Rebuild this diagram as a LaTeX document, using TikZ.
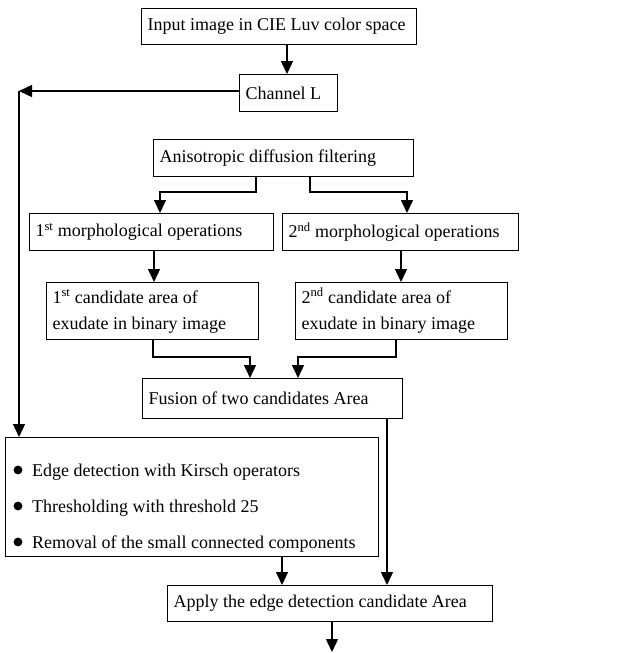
\documentclass[tikz,border=0pt]{standalone}
\usepackage{fontspec}
\setmainfont{Liberation Serif}
\usetikzlibrary{arrows.meta}
\newcommand{\lbx}[2]{\makebox[#1][l]{#2}}
\newcommand{\twoln}[3]{\makebox[#1][l]{\begin{tabular}{@{}l@{}}#2\\#3\end{tabular}}}
\begin{document}
\begin{tikzpicture}[x=1pt,y=-1pt,
  box/.style={draw, line width=1.1pt, inner xsep=6pt, inner ysep=0pt, anchor=north west, align=left, font=\fontsize{18}{26}\selectfont},
  txt/.style={anchor=base west, inner sep=0pt, font=\fontsize{18}{22}\selectfont},
  arr/.style={line width=1.4pt, -{Triangle[length=13pt,width=12pt]}}]
\useasboundingbox (0,0) rectangle (618,653);
% boxes
\node[box, minimum height=36pt] (in) at (141,8) {\lbx{263pt}{Input image in CIE Luv color space}};
\node[box, minimum height=37pt] (ch) at (239,74) {\lbx{86pt}{Channel L}};
\node[box, minimum height=37pt] (an) at (153,139) {\lbx{248pt}{Anisotropic diffusion filtering}};
\node[box, minimum height=37pt] (m1) at (29,213) {\lbx{232pt}{1\textsuperscript{st} morphological operations}};
\node[box, minimum height=37pt] (m2) at (282,213) {\lbx{224pt}{2\textsuperscript{nd} morphological operations}};
\node[box, minimum height=57pt] (c1) at (46,282) {\twoln{200pt}{1\textsuperscript{st} candidate area of}{exudate in binary image}};
\node[box, minimum height=57pt] (c2) at (295,282) {\twoln{200pt}{2\textsuperscript{nd} candidate area of}{exudate in binary image}};
\node[box, minimum height=40pt] (fu) at (142,378) {\lbx{248pt}{Fusion of two candidates Area}};
\node[box, minimum width=373pt, minimum height=119pt] (ed) at (5,437) {};
\node[box, minimum height=36pt] (ap) at (167,585) {\lbx{313pt}{Apply the edge detection candidate Area}};
% edge box content
\node[txt] (e1) at (32,476) {Edge detection with Kirsch operators};
\node[txt] (e2) at (32,512) {Thresholding with threshold 25};
\node[txt] (e3) at (32,548) {Removal of the small connected components};
\fill (18,470) circle (4.4pt);
\fill (18,506) circle (4.4pt);
\fill (18,542) circle (4.4pt);
% helper coordinates
\coordinate (x19) at (19,0);
\coordinate (x153) at (153,0);
\coordinate (x154) at (154,0);
\coordinate (x160) at (160,0);
\coordinate (x250) at (250,0);
\coordinate (x256) at (256,0);
\coordinate (x282) at (282,0);
\coordinate (x287) at (287,0);
\coordinate (x298) at (298,0);
\coordinate (x310) at (310,0);
\coordinate (x332) at (332,0);
\coordinate (x387) at (387,0);
\coordinate (x396) at (396,0);
\coordinate (x401) at (401,0);
\coordinate (x407) at (407,0);
\coordinate (ya) at (0,192);
\coordinate (yb) at (0,357);
\coordinate (yl) at (0,91);
\coordinate (out) at (332,652);
% connectors
\draw[arr] (in.south -| x287) -- (ch.north -| x287);
\draw[arr] (ch.west |- yl) -- (yl -| x19);
\draw[arr] (yl -| x19) -- (ed.north -| x19);
\draw[arr] (an.south -| x256) |- (ya -| x160) -- (m1.north -| x160);
\draw[arr] (an.south -| x310) |- (ya -| x407) -- (m2.north -| x407);
\draw[arr] (m1.south -| x154) -- (c1.north -| x154);
\draw[arr] (m2.south -| x401) -- (c2.north -| x401);
\draw[arr] (c1.south -| x153) |- (yb -| x250) -- (fu.north -| x250);
\draw[arr] (c2.south -| x396) |- (yb -| x298) -- (fu.north -| x298);
\draw[arr] (fu.south -| x387) -- (ap.north -| x387);
\draw[arr] (ed.south -| x282) -- (ap.north -| x282);
\draw[arr] (ap.south -| x332) -- (out);
\end{tikzpicture}
\end{document}
